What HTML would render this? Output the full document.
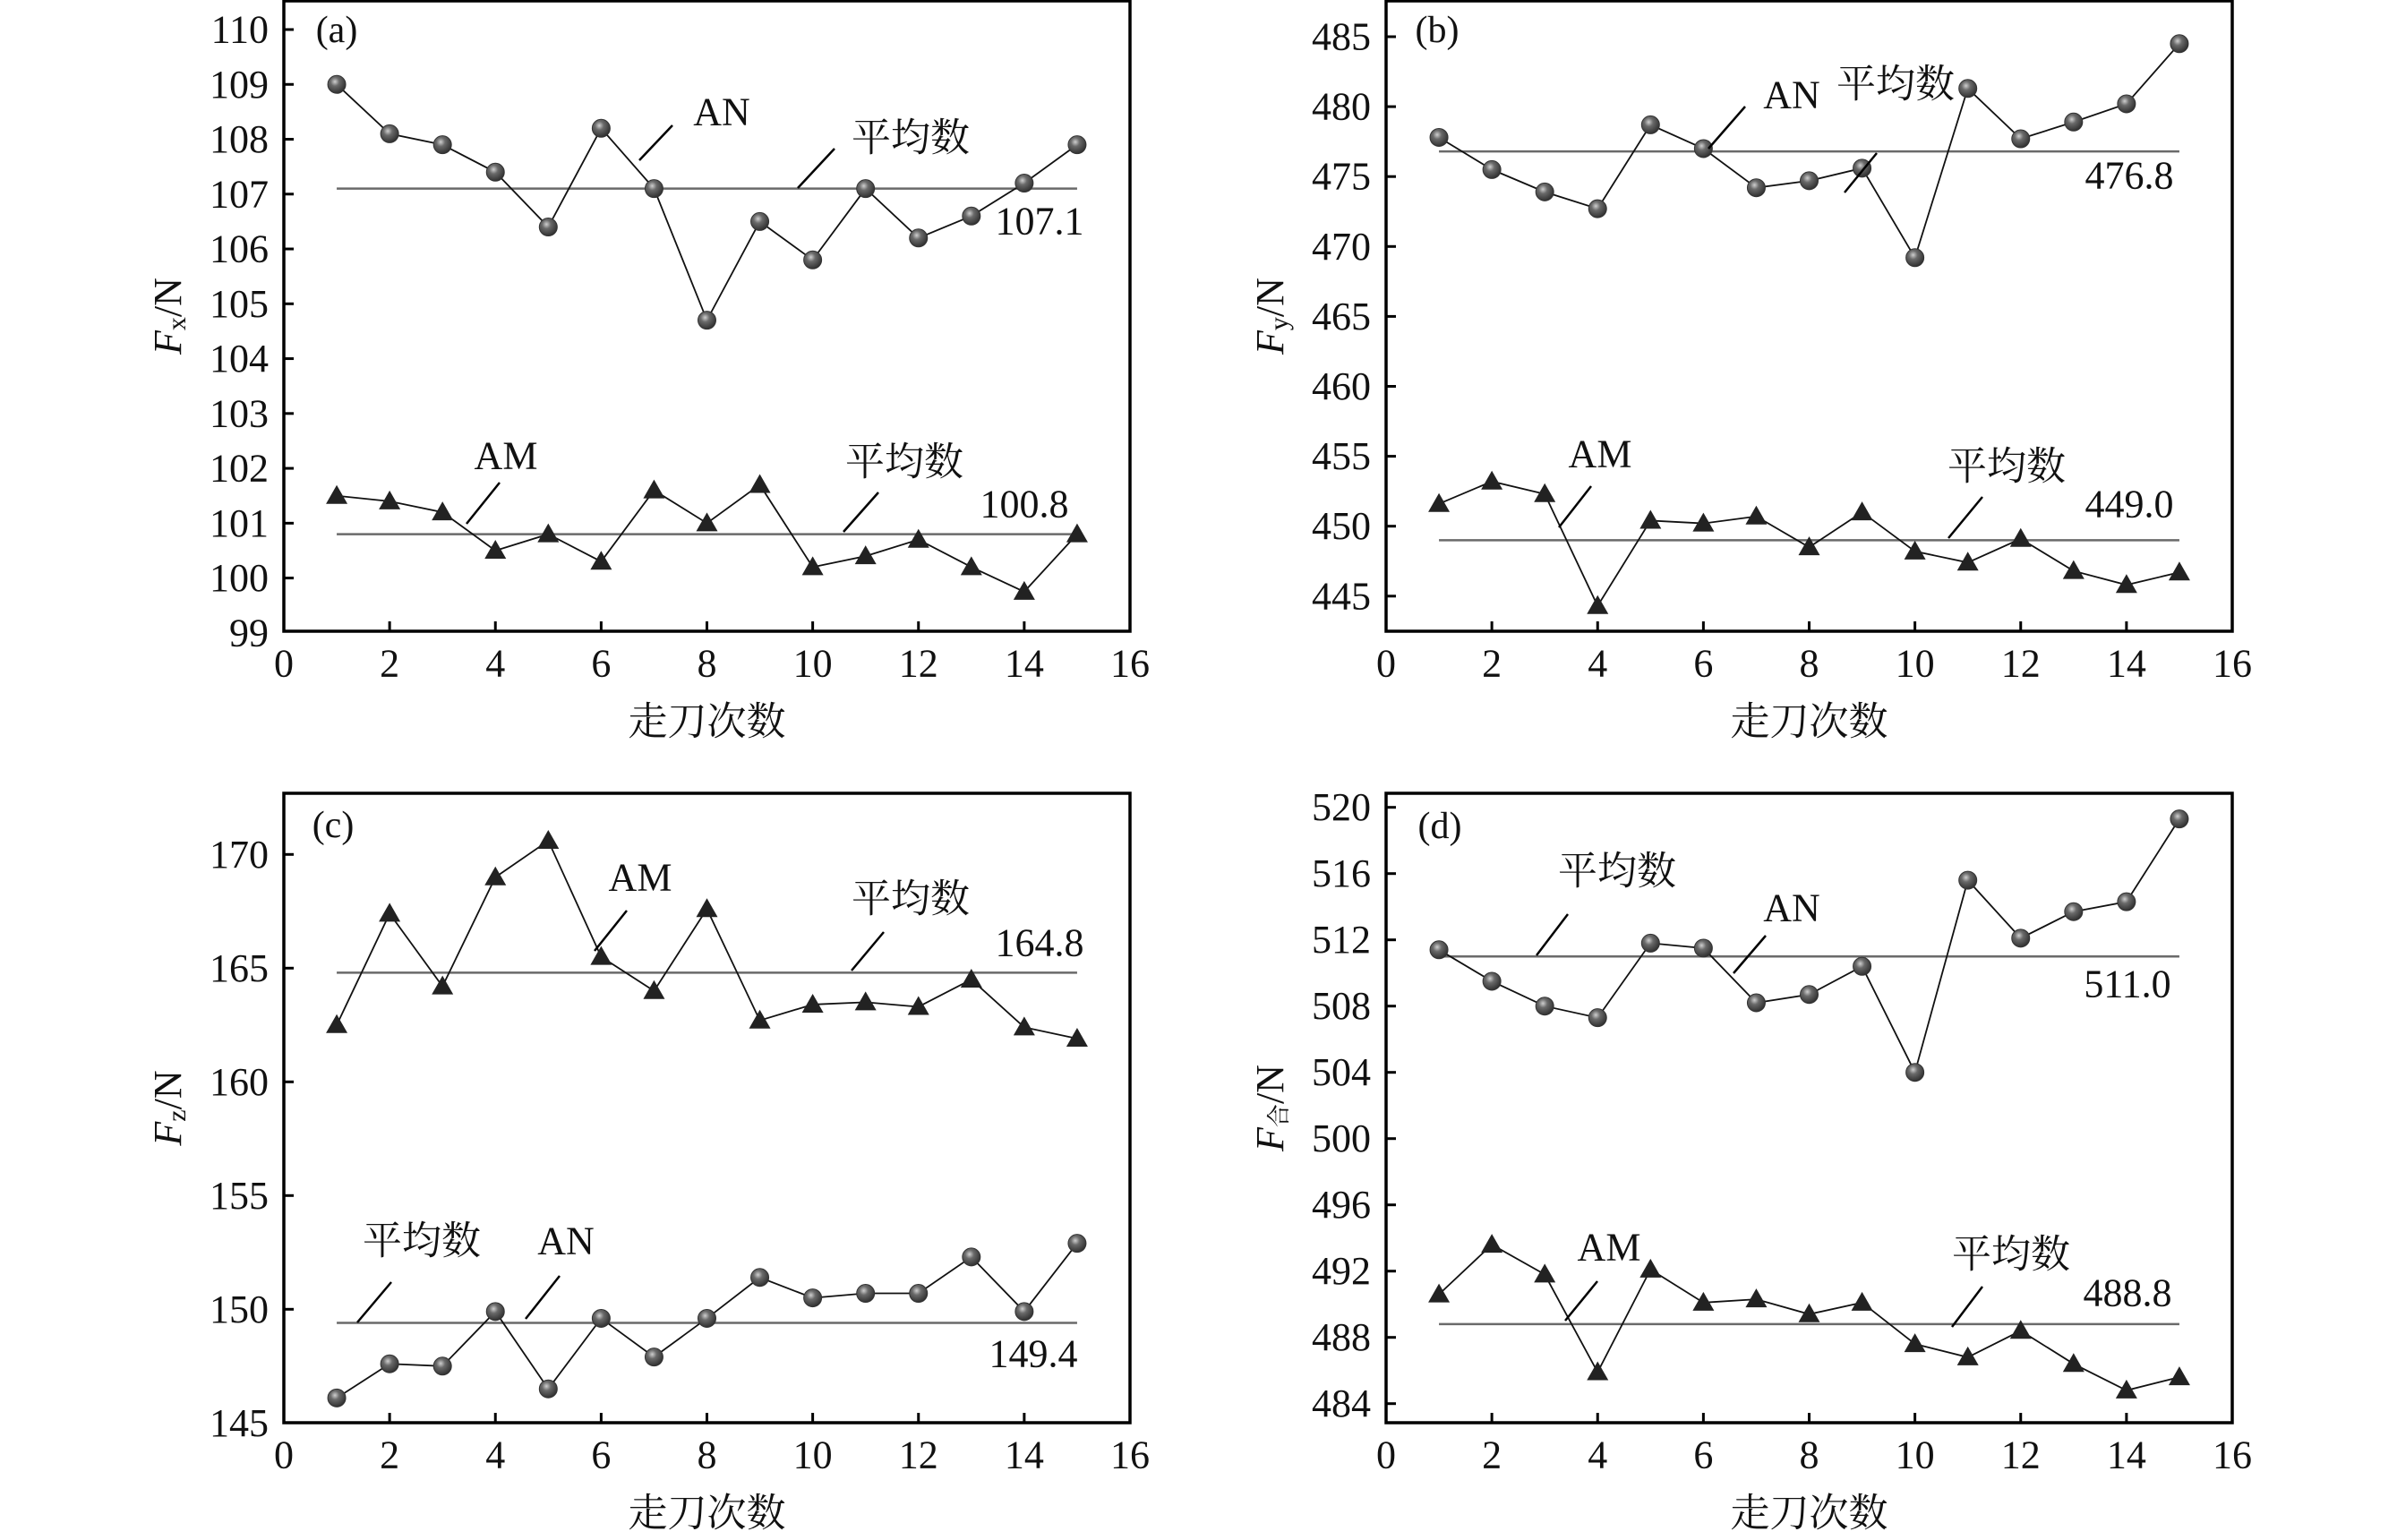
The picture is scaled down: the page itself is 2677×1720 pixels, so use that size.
<!DOCTYPE html>
<html><head><meta charset="utf-8"><style>
html,body{margin:0;padding:0;background:#fff}
svg{display:block}
svg text{font-family:"Liberation Serif","Times New Roman","Noto Serif CJK SC",serif;fill:#111}
</style></head><body>
<svg id="s" width="2677" height="1720" xmlns="http://www.w3.org/2000/svg" font-family="Liberation Serif, Noto Serif CJK SC, serif">
<defs>
<radialGradient id="g" cx="0.4" cy="0.35" r="0.7"><stop offset="0" stop-color="#cfcfcf"/><stop offset="0.35" stop-color="#6a6a6a"/><stop offset="1" stop-color="#2a2a2a"/></radialGradient>
</defs>
</svg>
<script>
const S=document.getElementById('s');const NS='http://www.w3.org/2000/svg';
const FF="'Liberation Serif', 'Noto Serif CJK SC', serif";
function el(t,a,txt){const e=document.createElementNS(NS,t);for(const k in a)e.setAttribute(k,a[k]);if(txt!==undefined)e.textContent=txt;S.appendChild(e);return e;}
function T(x,y,s,size,anchor){el('text',{x:x,y:y,'font-size':size||44,'font-family':FF,'text-anchor':anchor||'middle','dominant-baseline':'central'},s);}
function L(x1,y1,x2,y2,c,w){el('line',{x1,y1,x2,y2,stroke:c||'#000','stroke-width':w||2.5});}
const panels=[
{L:317,R:1262,T:1,B:705,y0:110,py:33,k:61.26,ticks:[99,100,101,102,103,104,105,106,107,108,109,110],sub:'x',lab:'(a)',labp:[376,34],
 s1:[109.0,108.1,107.9,107.4,106.4,108.2,107.1,104.7,106.5,105.8,107.1,106.2,106.6,107.2,107.9],m1:107.1,t1:'c',
 s2:[101.5,101.4,101.2,100.5,100.8,100.3,101.6,101.0,101.7,100.2,100.4,100.7,100.2,99.75,100.8],m2:100.8,t2:'t',
 ann:[['AN',806,125,714,179,751,140],['平均数',1017,154,891,210,932,166],['107.1',1161,247],['AM',565,509,521,585,558,539],['平均数',1010,516,942,594,981,550],['100.8',1144,563]]},
{L:1548,R:2493,T:1,B:705,y0:485,py:41,k:15.62,ticks:[445,450,455,460,465,470,475,480,485],sub:'y',lab:'(b)',labp:[1605,34],
 s1:[477.8,475.5,473.9,472.7,478.7,477.0,474.2,474.7,475.6,469.2,481.3,477.7,478.9,480.2,484.5],m1:476.8,t1:'c',
 s2:[451.6,453.2,452.3,444.3,450.4,450.2,450.7,448.5,451.0,448.2,447.4,449.1,446.8,445.8,446.7],m2:449.0,t2:'t',
 ann:[['AN',2001,106,1908,166,1949,119],['平均数',2117,94,2060,215,2096,171],['476.8',2378,196],['AM',1787,507,1741,589,1777,543],['平均数',2241,521,2176,601,2214,555],['449.0',2378,563]]},
{L:317,R:1262,T:886,B:1589,y0:170,py:954.3,k:25.4,ticks:[145,150,155,160,165,170],sub:'z',lab:'(c)',labp:[372,922],
 s1:[162.5,167.4,164.2,169.0,170.6,165.5,164.0,167.6,162.7,163.4,163.5,163.3,164.5,162.4,161.9],m1:164.8,t1:'t',
 s2:[146.1,147.6,147.5,149.9,146.5,149.6,147.9,149.6,151.4,150.5,150.7,150.7,152.3,149.9,152.9],m2:149.4,t2:'c',
 ann:[['AM',715,980,664,1062,700,1017],['平均数',1017,1004,951,1084,987,1041],['164.8',1161,1053],['平均数',471,1386,399,1477,437,1432],['AN',632,1386,587,1473,625,1425],['149.4',1154,1512]]},
{L:1548,R:2493,T:886,B:1589,y0:520,py:901.7,k:18.5,ticks:[484,488,492,496,500,504,508,512,516,520],sub:'合',lab:'(d)',labp:[1608,923],
 s1:[511.4,509.5,508.0,507.3,511.8,511.5,508.2,508.7,510.4,504.0,515.6,512.1,513.7,514.3,519.3],m1:511.0,t1:'c',
 s2:[490.6,493.6,491.8,485.9,492.1,490.1,490.3,489.4,490.1,487.6,486.8,488.4,486.4,484.8,485.6],m2:488.8,t2:'t',
 ann:[['平均数',1806,973,1716,1067,1751,1021],['AN',2001,1014,1936,1087,1972,1045],['511.0',2376,1099],['AM',1797,1393,1748,1475,1784,1431],['平均数',2246,1401,2180,1482,2214,1437],['488.8',2376,1444]]}
];
panels.forEach(p=>{
 const ux=(p.R-p.L)/16;const X=n=>p.L+n*ux;const Y=v=>p.py+(p.y0-v)*p.k;
 [p.m1,p.m2].forEach(m=>L(X(1),Y(m),X(15),Y(m),'#6a6a6a',2.5));
 [[p.s1,p.t1],[p.s2,p.t2]].forEach(([d,t])=>{
  el('polyline',{points:d.map((v,i)=>X(i+1)+','+Y(v)).join(' '),fill:'none',stroke:'#111','stroke-width':1.8});
  d.forEach((v,i)=>{const x=X(i+1),y=Y(v);
   if(t==='c')el('circle',{cx:x,cy:y,r:10,fill:'url(#g)',stroke:'#333','stroke-width':1});
   else el('polygon',{points:`${x},${y-12} ${x-12},${y+9} ${x+12},${y+9}`,fill:'#222'});
  });
 });
 el('rect',{x:p.L,y:p.T,width:p.R-p.L,height:p.B-p.T,fill:'none',stroke:'#000','stroke-width':3.5});
 for(let n=0;n<=16;n+=2){const x=X(n);if(n>0&&n<16)L(x,p.B,x,p.B-11,'#000',3);T(x,p.B+36,String(n),44);}
 p.ticks.forEach(v=>{const y=Y(v);if(y>p.T+3&&y<p.B-3)L(p.L,y,p.L+11,y,'#000',3);T(p.L-17,y,String(v),44,'end');});
 T(p.labp[0],p.labp[1],p.lab,42);
 p.ann.forEach(a=>{T(a[1],a[2],a[0],44);if(a.length>3)L(a[3],a[4],a[5],a[6],'#000',2.5);});
 T((p.L+p.R)/2,p.B+101,'走刀次数',44);
 const cy=(p.T+p.B)/2,cx=p.L-130;
 const t=el('text',{x:cx,y:cy,'font-size':44,'font-family':FF,'text-anchor':'middle','dominant-baseline':'central',transform:`rotate(-90 ${cx} ${cy})`});
 const a=document.createElementNS(NS,'tspan');a.setAttribute('font-style','italic');a.textContent='F';t.appendChild(a);
 const b=document.createElementNS(NS,'tspan');b.setAttribute('font-size',p.sub==='合'?26:30);b.setAttribute('dy','10');b.textContent=p.sub;t.appendChild(b);
 const c=document.createElementNS(NS,'tspan');c.setAttribute('dy','-10');c.textContent='/N';t.appendChild(c);
});
</script>
</body></html>
